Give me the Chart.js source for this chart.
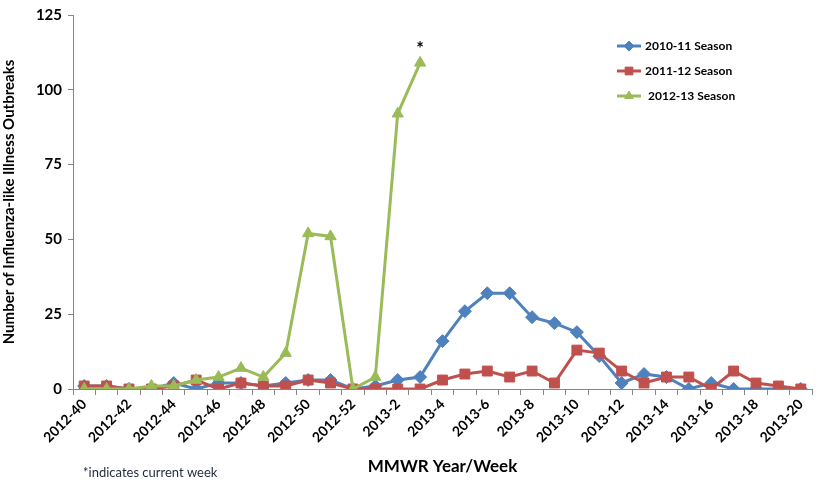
<!DOCTYPE html>
<html>
<head>
<meta charset="utf-8">
<script src="https://cdn.jsdelivr.net/npm/chart.js@4.4.1/dist/chart.umd.min.js"></script>
<style>
    html, body { margin: 0; padding: 0; background: #fff; }
    #wrap { position: relative; width: 820px; height: 484px; }
</style>
</head>
<body>
<div id="wrap"><canvas id="fluChart" width="820" height="484"></canvas></div>
<script>
// Semaines MMWR
const weeks = [
    '2012-40', '2012-41', '2012-42', '2012-43', '2012-44', '2012-45', '2012-46',
    '2012-47', '2012-48', '2012-49', '2012-50', '2012-51', '2012-52',
    '2013-1', '2013-2', '2013-3', '2013-4', '2013-5', '2013-6', '2013-7',
    '2013-8', '2013-9', '2013-10', '2013-11', '2013-12', '2013-13', '2013-14',
    '2013-15', '2013-16', '2013-17', '2013-18', '2013-19', '2013-20'
];

const season1011 = [1, 1, 0, 0, 2, 0, 2, 2, 1, 2, 3, 3, 0, 1, 3, 4, 16, 26, 32, 32, 24, 22, 19, 11, 2, 5, 4, 0, 2, 0, 0, 0, 0];
const season1112 = [1, 1, 0, 0, 1, 3, 0, 2, 1, 1, 3, 2, 0, 0, 0, 0, 3, 5, 6, 4, 6, 2, 13, 12, 6, 2, 4, 4, 0, 6, 2, 1, 0];
const season1213 = [0, 0, 0, 1, 1, 3, 4, 7, 4, 12, 52, 51, 0, 4, 92, 109];

const yTicks = [0, 25, 50, 75, 100, 125];

const seriesNames = ['2010-11 Season', '2011-12 Season', '2012-13 Season'];
const seriesColors = ['#4F81BD', '#C0504D', '#9BBB59'];
const seriesMarkers = ['rectRot', 'rect', 'triangle'];
const seriesRadius = [6.5, 7, 6.5];

const axisColor = '#868686';
const fontFamily = 'Lato, "Open Sans", sans-serif';

// Légende dessinée à la main, en haut à droite
const insideLegend = {
    id: 'insideLegend',
    afterDraw(chart) {
        const c = chart.ctx;
        const x0 = 617;
        const rows = [46, 71, 96];
        c.save();
        chart.data.datasets.forEach((ds, i) => {
            const y = rows[i];
            c.strokeStyle = ds.borderColor;
            c.fillStyle = ds.borderColor;
            c.lineWidth = 3;
            c.beginPath();
            c.moveTo(x0, y);
            c.lineTo(x0 + 24, y);
            c.stroke();
            c.lineWidth = 1;
            Chart.helpers.drawPoint(c, {
                pointStyle: ds.pointStyle,
                radius: ds.pointRadius - 1.5,
                borderWidth: 1
            }, x0 + 12, y);
            c.fillStyle = '#000';
            c.font = 'bold 12px ' + fontFamily;
            c.textBaseline = 'middle';
            c.fillText(ds.label, x0 + 28 + (i === 2 ? 3 : 0), y);
        });
        c.restore();
    }
};

// Astérisque au-dessus du dernier point de la saison courante
const currentWeekMark = {
    id: 'currentWeekMark',
    afterDatasetsDraw(chart) {
        const meta = chart.getDatasetMeta(2);
        const last = meta.data[meta.data.length - 1];
        if (!last) return;
        const c = chart.ctx;
        c.save();
        c.fillStyle = '#000';
        c.font = 'bold 18px ' + fontFamily;
        c.textAlign = 'center';
        c.textBaseline = 'middle';
        c.fillText('*', last.x, last.y - 14);
        c.restore();
    }
};

// Note en bas à gauche
const footNote = {
    id: 'footNote',
    afterDraw(chart) {
        const c = chart.ctx;
        c.save();
        c.fillStyle = '#1f2a3a';
        c.font = '13px ' + fontFamily;
        c.textBaseline = 'middle';
        c.fillText('*indicates current week', 83, 473);
        c.restore();
    }
};

const datasets = [season1011, season1112, season1213].map((values, i) => ({
    label: seriesNames[i],
    data: values,
    borderColor: seriesColors[i],
    backgroundColor: seriesColors[i],
    pointBackgroundColor: seriesColors[i],
    pointBorderColor: seriesColors[i],
    pointStyle: seriesMarkers[i],
    pointRadius: seriesRadius[i],
    pointBorderWidth: 1,
    borderWidth: 3,
    tension: 0,
    fill: false,
    order: 2 - i
}));

const ctx = document.getElementById('fluChart').getContext('2d');
const fluChart = new Chart(ctx, {
    type: 'line',
    data: {
        labels: weeks,
        datasets: datasets
    },
    options: {
        responsive: false,
        animation: false,
        layout: {
            padding: { top: 12, right: 8, left: 0, bottom: 0 }
        },
        scales: {
            x: {
                offset: true,
                grid: {
                    offset: true,
                    drawOnChartArea: false,
                    color: axisColor,
                    tickLength: 6,
                    tickColor: axisColor
                },
                border: { color: axisColor, width: 1 },
                ticks: {
                    autoSkip: false,
                    maxRotation: 45,
                    minRotation: 45,
                    padding: 1,
                    color: '#000',
                    font: { family: fontFamily, size: 14, weight: 'bold' },
                    callback: function (value, index) {
                        return index % 2 === 0 ? this.getLabelForValue(value) : '';
                    }
                },
                title: {
                    display: true,
                    text: 'MMWR Year/Week',
                    color: '#000',
                    font: { family: fontFamily, size: 17, weight: 'bold' },
                    padding: { top: 0, bottom: 7 }
                },
                afterFit(scale) {
                    scale.height = 95;
                }
            },
            y: {
                min: 0,
                max: 125,
                afterBuildTicks(scale) {
                    scale.ticks = yTicks.map(v => ({ value: v }));
                },
                grid: {
                    drawOnChartArea: false,
                    color: axisColor,
                    tickLength: 5,
                    tickColor: axisColor
                },
                border: { color: axisColor, width: 1 },
                ticks: {
                    padding: 6,
                    color: '#000',
                    font: { family: fontFamily, size: 15, weight: 'bold' }
                },
                title: {
                    display: true,
                    text: 'Number of Influenza-like Illness Outbreaks',
                    color: '#000',
                    font: { family: fontFamily, size: 15, weight: 'bold' },
                    padding: { top: 0, bottom: 2 }
                },
                afterFit(scale) {
                    scale.width = 73;
                }
            }
        },
        plugins: {
            legend: { display: false },
            tooltip: { enabled: false }
        }
    },
    plugins: [insideLegend, currentWeekMark, footNote]
});
</script>
</body>
</html>
